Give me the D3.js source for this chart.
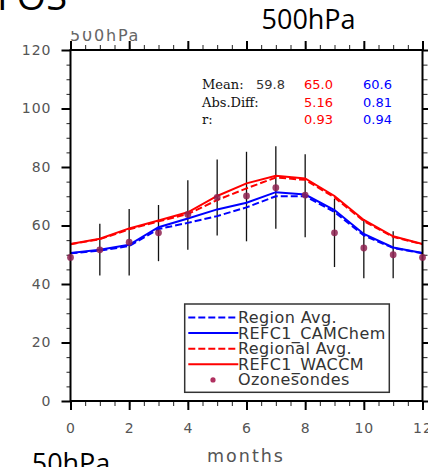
<!DOCTYPE html>
<html><head><meta charset="utf-8">
<script src="https://cdn.jsdelivr.net/npm/d3@7"></script>
<style>html,body{margin:0;padding:0;background:#fff;overflow:hidden}</style>
</head><body><svg id="c" width="428" height="467"></svg>
<script>
const months = [0,1,2,3,4,5,6,7,8,9,10,11,12];
const ozonesondes = [49.1, 51.7, 54.3, 57.5, 63.8, 69.6, 70.1, 72.9, 70.4, 57.5, 52.3, 50.0, 49.1];
const errLow  = [null, 42.9, 42.9, 47.8, 51.7, 56.6, 54.6, 58.9, 56.0, 45.8, 42.0, 42.0, null];
const errHigh = [null, 60.6, 65.6, 67.0, 75.5, 82.6, 85.2, 87.1, 84.4, 69.1, 62.2, 58.0, null];
const refc1Waccm   = [53.7, 55.5, 59.0, 61.7, 64.5, 70.1, 74.4, 77.0, 76.1, 70.1, 61.9, 56.3, 53.7];
const regionalAvg  = [53.6, 55.3, 58.7, 61.4, 63.9, 68.7, 72.7, 76.4, 75.6, 69.6, 61.5, 56.1, 53.6];
const refc1CamChem = [50.6, 51.7, 53.4, 59.4, 62.4, 65.5, 67.8, 71.4, 70.6, 65.3, 57.1, 52.5, 50.6];
const regionAvg    = [50.5, 51.4, 53.0, 58.8, 60.9, 63.2, 66.2, 70.0, 70.0, 64.6, 56.6, 52.3, 50.5];
const xMajorTicks = [0,2,4,6,8,10,12];
const yMajorTicks = [0,20,40,60,80,100,120];
const statsLabels = ["Mean:", "Abs.Diff:", "r:"];
const statsObs   = ["59.8", "", ""];
const statsWaccm = ["65.0", "5.16", "0.93"];
const statsCam   = ["60.6", "0.81", "0.94"];
const legendLabels = ["Region Avg.", "REFC1_CAMChem", "Regional Avg.", "REFC1_WACCM", "Ozonesondes"];

const RED = "#ff0000", BLUE = "#0000ff", DOT = "#8e2150";
const svg = d3.select("#c");
svg.append("rect").attr("width",428).attr("height",467).attr("fill","#fff");

const x = d3.scaleLinear().domain([0,12]).range([70.5,422.5]);
const y = d3.scaleLinear().domain([0,120]).range([401,50]);
const xMinor = d3.range(0, 12.001, 0.5);
const yMinor = d3.range(0, 120.001, 5);

function styleTicks(g, sw, col){
  g.select(".domain").remove();
  g.selectAll(".tick line").attr("stroke", col).attr("stroke-width", sw);
  g.selectAll(".tick text").attr("font-family","DejaVu Sans").attr("font-size",14)
    .attr("fill","#555").attr("letter-spacing","1px");
}
// minor ticks
svg.append("g").attr("transform","translate(0,401)")
  .call(d3.axisBottom(x).tickValues(xMinor).tickSize(5).tickFormat("")).call(g=>styleTicks(g,1,"#222"));
svg.append("g").attr("transform","translate(0,50)")
  .call(d3.axisTop(x).tickValues(xMinor).tickSize(5).tickFormat("")).call(g=>styleTicks(g,1,"#222"));
svg.append("g").attr("transform","translate(70.5,0)")
  .call(d3.axisLeft(y).tickValues(yMinor).tickSize(4).tickFormat("")).call(g=>styleTicks(g,1,"#222"));
svg.append("g").attr("transform","translate(422.5,0)")
  .call(d3.axisRight(y).tickValues(yMinor).tickSize(5).tickFormat("")).call(g=>styleTicks(g,1,"#222"));
// major ticks
svg.append("g").attr("transform","translate(0,401)")
  .call(d3.axisBottom(x).tickValues(xMajorTicks).tickSize(9).tickPadding(13).tickFormat(d3.format("d")))
  .call(g=>styleTicks(g,2,"#000"));
svg.append("g").attr("transform","translate(0,50)")
  .call(d3.axisTop(x).tickValues(xMajorTicks).tickSize(9).tickFormat("")).call(g=>styleTicks(g,2,"#000"));
svg.append("g").attr("transform","translate(70.5,0)")
  .call(d3.axisLeft(y).tickValues(yMajorTicks).tickSize(9).tickPadding(10).tickFormat(d3.format("d")))
  .call(g=>styleTicks(g,2,"#000"));
svg.append("g").attr("transform","translate(422.5,0)")
  .call(d3.axisRight(y).tickValues(yMajorTicks).tickSize(9).tickFormat("")).call(g=>styleTicks(g,2,"#000"));

// error bars
svg.append("g").selectAll("line").data(months.filter((m,i)=>errLow[i]!=null)).join("line")
  .attr("x1",m=>x(m)).attr("x2",m=>x(m))
  .attr("y1",m=>y(errLow[months.indexOf(m)])).attr("y2",m=>y(errHigh[months.indexOf(m)]))
  .attr("stroke","#111").attr("stroke-width",1.3);

const line = d3.line().x((d,i)=>x(months[i])).y(d=>y(d));
const series = [
  {v: regionAvg, c: BLUE, dash: "7,3"},
  {v: refc1CamChem, c: BLUE, dash: null},
  {v: regionalAvg, c: RED, dash: "7,3"},
  {v: refc1Waccm, c: RED, dash: null}
];
svg.append("g").selectAll("path").data(series).join("path")
  .attr("d",s=>line(s.v)).attr("fill","none").attr("stroke",s=>s.c).attr("stroke-width",2)
  .attr("stroke-dasharray",s=>s.dash);

// frame
svg.append("rect").attr("x",70.5).attr("y",50).attr("width",352).attr("height",351)
  .attr("fill","none").attr("stroke","#000").attr("stroke-width",2);

// dots
svg.append("g").selectAll("circle").data(ozonesondes).join("circle")
  .attr("cx",(d,i)=>x(months[i])).attr("cy",d=>y(d)).attr("r",3.4)
  .attr("fill",DOT).attr("opacity",0.85);

// stats text
const st = svg.append("g");
statsLabels.forEach((t,i)=>{
  const by = 89 + i*17.5;
  st.append("text").attr("x",202).attr("y",by).text(t)
    .attr("font-family","DejaVu Serif").attr("font-size",13).attr("fill","#111");
  st.append("text").attr("x",256).attr("y",by).text(statsObs[i])
    .attr("font-family","DejaVu Sans").attr("font-size",13).attr("fill","#333");
  st.append("text").attr("x",304).attr("y",by).text(statsWaccm[i])
    .attr("font-family","DejaVu Sans").attr("font-size",13).attr("fill",RED);
  st.append("text").attr("x",363).attr("y",by).text(statsCam[i])
    .attr("font-family","DejaVu Sans").attr("font-size",13).attr("fill",BLUE);
});

// legend
const lg = svg.append("g");
lg.append("rect").attr("x",184.7).attr("y",304).attr("width",204.6).attr("height",88.3)
  .attr("fill","#fff").attr("stroke","#333").attr("stroke-width",1.5);
const legStyles = [series[0], series[1], series[2], series[3]];
legendLabels.forEach((t,i)=>{
  const by = 323 + i*15.6;
  if(i<4){
    lg.append("line").attr("x1",188.3).attr("x2",238.3).attr("y1",by-5.5).attr("y2",by-5.5)
      .attr("stroke",legStyles[i].c).attr("stroke-width",2).attr("stroke-dasharray",legStyles[i].dash);
  } else {
    lg.append("circle").attr("cx",213).attr("cy",by-5.5).attr("r",2.6).attr("fill","#b03060");
  }
  lg.append("text").attr("x",238).attr("y",by).text(t)
    .attr("font-family","DejaVu Sans").attr("font-size",16).attr("letter-spacing","0.4px").attr("fill","#333");
});

// axis label
svg.append("text").attr("x",246).attr("y",462).attr("text-anchor","middle").text("months")
  .attr("font-family","DejaVu Sans").attr("font-size",17.5).attr("letter-spacing","2px").attr("fill","#555");

// clipped gray panel title
svg.append("text").attr("x",70).attr("y",40.5).text("500hPa")
  .attr("font-family","DejaVu Sans").attr("font-size",16).attr("letter-spacing","1.8px").attr("fill","#666");
svg.append("rect").attr("x",0).attr("y",0).attr("width",92).attr("height",31).attr("fill","#fff");
// slide texts
svg.append("text").attr("x",-3).attr("y",9.5).text("FOS")
  .attr("font-family","Open Sans").attr("font-size",38).attr("fill","#000");
svg.append("text").attr("x",261.5).attr("y",29).text("500hPa")
  .attr("font-family","Open Sans").attr("font-size",27).attr("fill","#000");
svg.append("text").attr("x",31.7).attr("y",472.5).text("50hPa")
  .attr("font-family","Open Sans").attr("font-size",27).attr("fill","#000");
</script></body></html>
